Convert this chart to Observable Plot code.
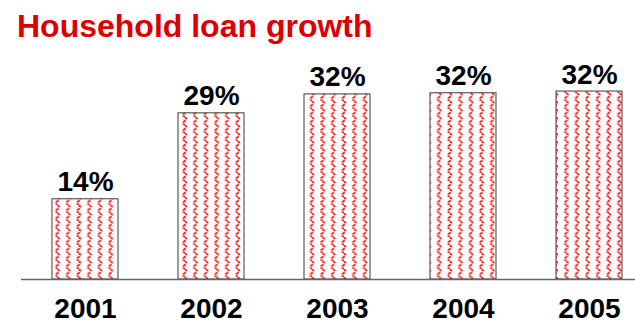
<!DOCTYPE html>
<html>
<head>
<meta charset="utf-8">
<script src="https://cdn.jsdelivr.net/npm/d3@7"></script>
<script src="https://cdn.jsdelivr.net/npm/@observablehq/plot@0.6"></script>
<style>
  html, body { margin: 0; padding: 0; background: #fff; overflow: hidden; width: 635px; height: 325px; }
  #title { position: absolute; left: 17px; top: 10px; font: bold 32px/1 "Liberation Sans", Arial, sans-serif; color: #dd0000; white-space: nowrap; }
  #chart { position: absolute; left: 0; top: 45px; }
  #chart svg { overflow: visible; }
</style>
</head>
<body>
<div id="title">Household loan growth</div>
<div id="chart"></div>
<script>
const years = ["2001", "2002", "2003", "2004", "2005"];
const growth = [14, 29, 32.3, 32.5, 32.8];
const valueLabels = ["14%", "29%", "32%", "32%", "32%"];

const data = years.map((y, i) => ({year: y, value: growth[i], label: valueLabels[i]}));

const baseY = 234;
const k = 5.73;

const chart = Plot.plot({
  width: 635,
  height: 280,
  marginLeft: 21,
  marginRight: 0,
  marginTop: 0,
  marginBottom: 46,
  style: {fontFamily: "'Liberation Sans', Arial, sans-serif", background: "transparent", overflow: "visible"},
  x: {type: "band", domain: years, range: [-9.2, 682.5], padding: 0.477},
  y: {domain: [0, 35], range: [baseY, baseY - k * 35], axis: null},
  marks: [
    Plot.barY(data, {x: "year", y: "value", fill: "url(#hatch)", stroke: "#3a3a3a", strokeWidth: 1}),
    Plot.ruleY([0], {stroke: "#666", strokeWidth: 1.5}),
    Plot.text(data, {x: "year", y: "value", text: "label", dy: -8, lineAnchor: "bottom", fontSize: 28, fontWeight: "bold", fill: "#000"}),
    Plot.axisX({tickSize: 0, tickPadding: 19, fontSize: 28, fontWeight: "bold", fill: "#000", label: null})
  ]
});

const ns = "http://www.w3.org/2000/svg";
const defs = document.createElementNS(ns, "defs");
defs.innerHTML = `
  <pattern id="hatch" patternUnits="userSpaceOnUse" width="10.6" height="8" x="0" y="0">
    <rect width="10.6" height="8" fill="#fff"/>
    <path d="M4.5,0 Q7.5,2 4.5,4 Q1.5,6 4.5,8" fill="none" stroke="#ff2a2a" stroke-width="2.1" stroke-dasharray="3,1"/>
  </pattern>`;
chart.insertBefore(defs, chart.firstChild);
document.getElementById("chart").appendChild(chart);
</script>
</body>
</html>
